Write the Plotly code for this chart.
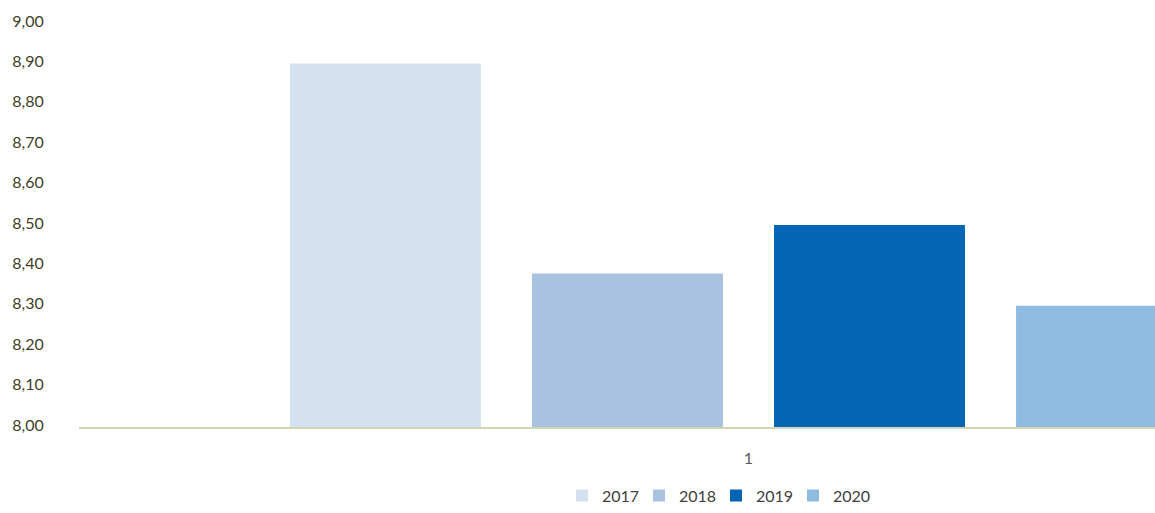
import plotly.graph_objects as go

# Chart data
categories = ["1"]
years = ["2017", "2018", "2019", "2020"]
values = [8.90, 8.38, 8.50, 8.30]
colors = ["#d5e1ee", "#a9c2e0", "#0465b5", "#8ebde1"]

y_ticks = [8.0 + i * 0.1 for i in range(11)]
y_tick_labels = [f"{v:.2f}".replace(".", ",") for v in y_ticks]

fig = go.Figure()
for year, val, col in zip(years, values, colors):
    fig.add_trace(go.Bar(
        x=categories, y=[val], name=year,
        marker=dict(color=col, line=dict(width=0)),
    ))

fig.update_layout(
    width=1155, height=513,
    margin=dict(l=79, r=0, t=23, b=81),
    paper_bgcolor="white", plot_bgcolor="white",
    font=dict(family="Lato, 'Open Sans', sans-serif", size=16, color="#404040"),
    barmode="group",
    bargap=0.277,
    bargroupgap=0.211,
    showlegend=True,
    legend=dict(
        orientation="h", x=0.592, xanchor="center", y=-0.17, yanchor="middle",
        font=dict(size=16, color="#404040"), itemwidth=30,
        entrywidth=32, entrywidthmode="pixels",
        traceorder="normal",
    ),
    xaxis=dict(
        type="category", range=[-0.5, 0.3036],
        showgrid=False, zeroline=False,
        showline=True, linecolor="#d3d6b4", linewidth=1.5,
        ticks="outside", ticklen=16, tickcolor="rgba(0,0,0,0)",
        tickfont=dict(size=16, color="#595959"),
    ),
    yaxis=dict(
        range=[8.0, 9.0], tickvals=y_ticks, ticktext=y_tick_labels,
        showgrid=False, zeroline=False, showline=False,
        ticks="outside", ticklen=31, tickcolor="rgba(0,0,0,0)",
        ticklabelshift=-2,
        tickfont=dict(size=16, color="#3f3f28"),
    ),
)

fig.write_html("out.html")
